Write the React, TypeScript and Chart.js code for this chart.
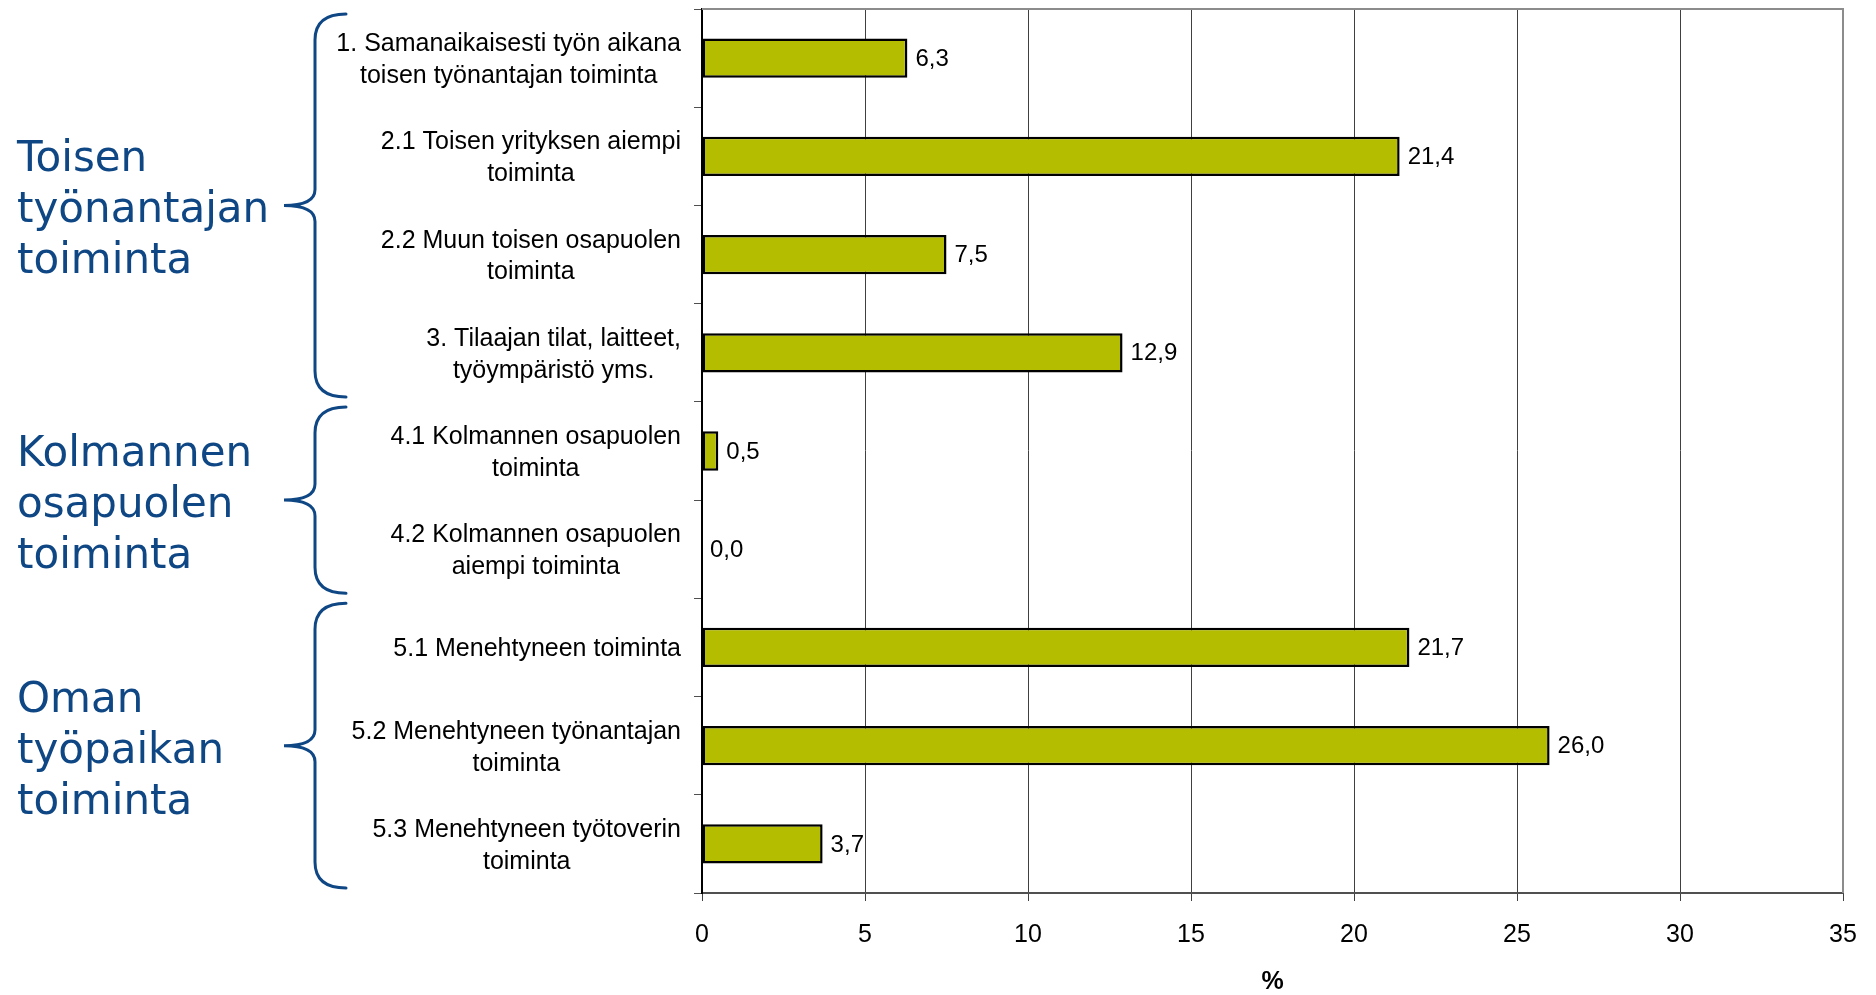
import React, { useEffect, useRef } from 'react';
import { Chart, registerables } from 'chart.js';

Chart.register(...registerables);

// ---------- data ----------
const categoryLabels: string[][] = [
  ['1. Samanaikaisesti työn aikana', 'toisen työnantajan toiminta'],
  ['2.1 Toisen yrityksen aiempi', 'toiminta'],
  ['2.2 Muun toisen osapuolen', 'toiminta'],
  ['3. Tilaajan tilat, laitteet,', 'työympäristö yms.'],
  ['4.1 Kolmannen osapuolen', 'toiminta'],
  ['4.2 Kolmannen osapuolen', 'aiempi toiminta'],
  ['5.1 Menehtyneen toiminta'],
  ['5.2 Menehtyneen työnantajan', 'toiminta'],
  ['5.3 Menehtyneen työtoverin', 'toiminta'],
];
const values: number[] = [6.3, 21.4, 7.5, 12.9, 0.5, 0.0, 21.7, 26.0, 3.7];

const groupNames: string[][] = [
  ['Toisen', 'työnantajan', 'toiminta'],
  ['Kolmannen', 'osapuolen', 'toiminta'],
  ['Oman', 'työpaikan', 'toiminta'],
];
const groupFirst: number[] = [0, 4, 6];
const groupLast: number[] = [3, 5, 8];

const xMin = 0;
const xMax = 35;
const xStep = 5;
const xTitle = '%';

// ---------- styles ----------
const BAR_COLOR = '#B5BD00';
const BLUE = '#0F4785';
const SANS = '"Liberation Sans", Arial, sans-serif';
const GROUP_FONT = '"DejaVu Sans", Verdana, sans-serif';

const overlayPlugin = {
  id: 'overlay',
  afterDatasetsDraw(chart: any) {
    const ctx = chart.ctx as CanvasRenderingContext2D;
    const { top, right, left, bottom } = chart.chartArea;
    ctx.save();
    // top & right frame
    ctx.strokeStyle = '#8c8c8c';
    ctx.lineWidth = 2;
    ctx.beginPath();
    ctx.moveTo(left, top);
    ctx.lineTo(right, top);
    ctx.lineTo(right, bottom);
    ctx.stroke();

    // value labels
    const meta = chart.getDatasetMeta(0);
    ctx.font = `24px ${SANS}`;
    ctx.fillStyle = '#000';
    ctx.textAlign = 'left';
    ctx.textBaseline = 'middle';
    meta.data.forEach((bar: any, i: number) => {
      const txt = values[i].toFixed(1).replace('.', ',');
      ctx.fillText(txt, bar.x + 8, bar.y + 1);
    });
    ctx.restore();
  },
  afterDraw(chart: any) {
    const ctx = chart.ctx as CanvasRenderingContext2D;
    const yScale = chart.scales.y;
    ctx.save();

    // category labels (block right-aligned, lines centred)
    const labelRight = yScale.right - 21;
    const lh = 31.7;
    ctx.font = `25px ${SANS}`;
    ctx.fillStyle = '#000';
    ctx.textAlign = 'center';
    ctx.textBaseline = 'alphabetic';
    categoryLabels.forEach((lines, i) => {
      const c = yScale.getPixelForValue(i);
      const maxW = Math.max(...lines.map((l) => ctx.measureText(l).width));
      const cx = labelRight - maxW / 2;
      lines.forEach((line, j) => {
        const yy = c + (j - (lines.length - 1) / 2) * lh;
        ctx.fillText(line, cx, yy + 9);
      });
    });

    // braces and group names
    const step = yScale.getPixelForValue(1) - yScale.getPixelForValue(0);
    const xLine = 315;
    const xTip = 284;
    const xEnd = 346;
    const hook = 26;
    const cusp = 16;
    ctx.strokeStyle = BLUE;
    ctx.lineWidth = 3;
    ctx.lineCap = 'round';
    groupNames.forEach((names, g) => {
      const t = yScale.getPixelForValue(groupFirst[g]) - step / 2 + 5;
      const b = yScale.getPixelForValue(groupLast[g]) + step / 2 - 5;
      const m = (t + b) / 2;
      ctx.beginPath();
      ctx.moveTo(xEnd, t);
      ctx.quadraticCurveTo(xLine, t, xLine, t + hook);
      ctx.lineTo(xLine, m - cusp);
      ctx.quadraticCurveTo(xLine, m, xTip, m);
      ctx.quadraticCurveTo(xLine, m, xLine, m + cusp);
      ctx.lineTo(xLine, b - hook);
      ctx.quadraticCurveTo(xLine, b, xEnd, b);
      ctx.stroke();

      ctx.font = `42px ${GROUP_FONT}`;
      ctx.fillStyle = BLUE;
      ctx.textAlign = 'left';
      ctx.textBaseline = 'alphabetic';
      const glh = 51;
      names.forEach((n, j) => {
        const yy = m + 17 + (j - (names.length - 1) / 2) * glh;
        ctx.fillText(n, 17, yy);
      });
    });
    ctx.restore();
  },
};

export default function App() {
  const ref = useRef<HTMLCanvasElement | null>(null);

  useEffect(() => {
    if (!ref.current) return;
    Chart.defaults.font.family = SANS;
    const chart = new Chart(ref.current, {
      type: 'bar',
      data: {
        labels: categoryLabels.map((l) => l.join(' ')),
        datasets: [
          {
            data: values,
            backgroundColor: BAR_COLOR,
            borderColor: '#000',
            borderWidth: 2.5,
            borderSkipped: false,
            barPercentage: 0.4,
            categoryPercentage: 1,
          },
        ],
      },
      options: {
        indexAxis: 'y',
        responsive: false,
        animation: false,
        devicePixelRatio: 1,
        layout: { padding: { left: 0, right: 33, top: 9, bottom: 0 } },
        plugins: {
          legend: { display: false },
          tooltip: { enabled: false },
        },
        scales: {
          x: {
            type: 'linear',
            min: xMin,
            max: xMax,
            ticks: {
              stepSize: xStep,
              color: '#000',
              font: { size: 25, family: SANS },
              padding: 19,
            },
            grid: {
              color: '#404040',
              lineWidth: 1,
              drawTicks: true,
              tickLength: 8,
              tickColor: '#404040',
            },
            border: { display: true, color: '#505050', width: 2 },
            title: {
              display: true,
              text: xTitle,
              color: '#000',
              font: { size: 25, weight: 'bold', family: SANS, lineHeight: 1 },
              padding: 0,
            },
            afterFit(scale: any) {
              scale.height = 102;
            },
          },
          y: {
            type: 'category',
            ticks: { display: false },
            grid: {
              drawOnChartArea: false,
              drawTicks: true,
              tickLength: 8,
              color: '#505050',
              tickColor: '#505050',
            },
            border: { display: true, color: '#000', width: 2 },
            afterFit(scale: any) {
              scale.width = 702;
            },
          },
        },
      },
      plugins: [overlayPlugin],
    });
    return () => chart.destroy();
  }, []);

  return (
    <div style={{ position: 'absolute', left: 0, top: 0, width: 1876, height: 995, background: '#fff' }}>
      <canvas ref={ref} width={1876} height={995} style={{ width: 1876, height: 995, display: 'block' }} />
    </div>
  );
}
